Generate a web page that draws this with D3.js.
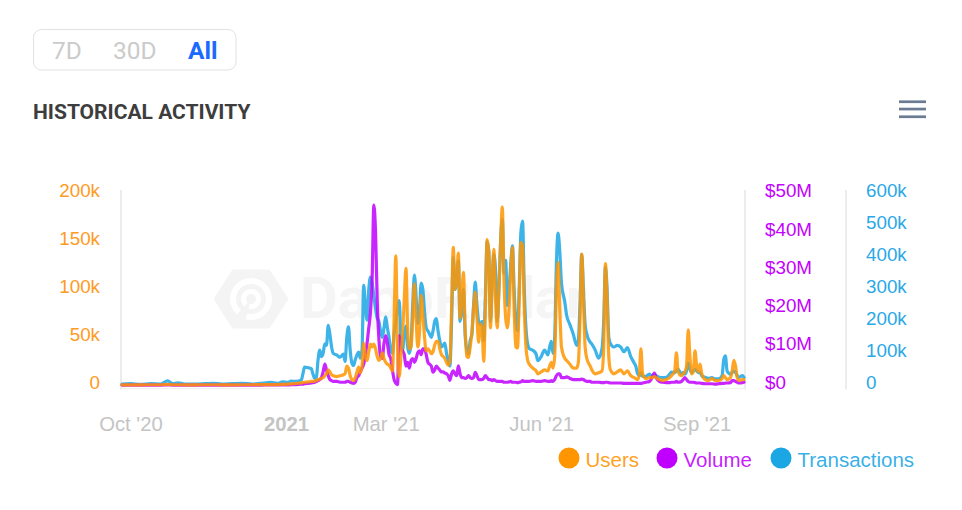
<!DOCTYPE html>
<html><head><meta charset="utf-8">
<script src="https://cdn.jsdelivr.net/npm/d3@7"></script>
<style>
html,body{margin:0;padding:0;background:#fff;}
svg{display:block;}
</style></head><body>
<svg id="chart" width="962" height="510"></svg>
<script>
// ---- DATA ----
const dates = ["2020-09-26","2020-10-01","2020-10-07","2020-10-13","2020-10-19","2020-10-23","2020-10-26","2020-10-29","2020-11-02","2020-11-08","2020-11-14","2020-11-19","2020-11-24","2020-11-30","2020-12-06","2020-12-12","2020-12-17","2020-12-23","2020-12-27","2020-12-30",
"2021-01-02","2021-01-04","2021-01-07","2021-01-10","2021-01-11","2021-01-12","2021-01-14","2021-01-16","2021-01-17","2021-01-18","2021-01-19","2021-01-20","2021-01-21","2021-01-22","2021-01-23","2021-01-24","2021-01-25","2021-01-26","2021-01-27","2021-01-28","2021-01-29","2021-01-31",
"2021-02-02","2021-02-04","2021-02-05","2021-02-06","2021-02-07","2021-02-08","2021-02-09","2021-02-10","2021-02-11","2021-02-12","2021-02-13","2021-02-14","2021-02-15","2021-02-16","2021-02-17","2021-02-18","2021-02-19","2021-02-20","2021-02-21","2021-02-22","2021-02-23","2021-02-24","2021-02-25","2021-02-26","2021-02-27","2021-02-28",
"2021-03-01","2021-03-02","2021-03-03","2021-03-04","2021-03-05","2021-03-06","2021-03-07","2021-03-08","2021-03-09","2021-03-10","2021-03-11","2021-03-12","2021-03-13","2021-03-14","2021-03-15","2021-03-16","2021-03-17","2021-03-18","2021-03-19","2021-03-20","2021-03-21","2021-03-22","2021-03-23","2021-03-24","2021-03-25","2021-03-26","2021-03-27","2021-03-28","2021-03-29","2021-03-30","2021-03-31",
"2021-04-01","2021-04-02","2021-04-03","2021-04-04","2021-04-05","2021-04-06","2021-04-07","2021-04-08","2021-04-09","2021-04-10","2021-04-11","2021-04-12","2021-04-13","2021-04-14","2021-04-15","2021-04-16","2021-04-17","2021-04-18","2021-04-19","2021-04-20","2021-04-21","2021-04-22","2021-04-23","2021-04-24","2021-04-25","2021-04-26","2021-04-27","2021-04-28","2021-04-29","2021-04-30",
"2021-05-01","2021-05-02","2021-05-03","2021-05-04","2021-05-05","2021-05-06","2021-05-07","2021-05-08","2021-05-09","2021-05-10","2021-05-11","2021-05-12","2021-05-13","2021-05-14","2021-05-15","2021-05-16","2021-05-17","2021-05-18","2021-05-19","2021-05-20","2021-05-21","2021-05-22","2021-05-23","2021-05-24","2021-05-25","2021-05-27","2021-05-29","2021-05-30",
"2021-06-01","2021-06-03","2021-06-05","2021-06-06","2021-06-07","2021-06-08","2021-06-09","2021-06-10","2021-06-11","2021-06-12","2021-06-13","2021-06-15","2021-06-16","2021-06-18","2021-06-20","2021-06-22","2021-06-23","2021-06-24","2021-06-25","2021-06-26","2021-06-27","2021-06-28","2021-06-30",
"2021-07-01","2021-07-03","2021-07-05","2021-07-07","2021-07-08","2021-07-09","2021-07-10","2021-07-11","2021-07-12","2021-07-14","2021-07-16","2021-07-18","2021-07-20","2021-07-22","2021-07-24","2021-07-26","2021-07-27","2021-07-28","2021-07-29","2021-07-30","2021-07-31",
"2021-08-02","2021-08-04","2021-08-05","2021-08-07","2021-08-08","2021-08-10","2021-08-12","2021-08-14","2021-08-16","2021-08-17","2021-08-19","2021-08-20","2021-08-21","2021-08-23","2021-08-24","2021-08-25","2021-08-26","2021-08-27","2021-08-28","2021-08-29","2021-08-30","2021-08-31",
"2021-09-01","2021-09-02","2021-09-03","2021-09-04","2021-09-06","2021-09-08","2021-09-10","2021-09-12","2021-09-14","2021-09-16","2021-09-17","2021-09-18","2021-09-19","2021-09-21","2021-09-22","2021-09-23","2021-09-24","2021-09-25","2021-09-26","2021-09-28","2021-09-29"];

// Users (thousands)
const users = [0.5,0.5,0.5,0.6,0.6,1.0,0.6,0.6,0.5,0.5,0.6,0.6,0.5,0.5,0.6,0.6,0.7,0.8,0.8,1.0,
1.2,1.5,2,2.5,3,3.2,3.5,4,4,4.5,5,6,6.5,7,8,10,12,16,14,11,10,9,
10,11,12,20,18,10,6,5,8,14,19,13,20,44,30,26,35,43,40,43,38,30,26,28,34,28,
24,22,21,18,15,70,135,40,9,30,54,90,122,60,38,40,70,106,70,40,55,94,75,50,36,38,36,33,35,42,46,
46,38,32,30,28,24,21,25,80,144,100,110,138,70,90,118,60,30,29,40,55,80,97,70,45,64,60,25,80,152,
140,60,110,142,90,60,100,150,186,110,70,60,80,120,144,80,40,39,90,149,145,80,40,26,22,18,15,12,
14,16,15,20,24,18,30,100,128,80,40,28,26,22,18,18,24,70,137,90,40,28,20,
16,12,13,15,40,127,90,30,16,12,14,16,12,15,10,8,7,6,10,38,12,
7,8,8,9,8,6,5,6,8,10,15,34,14,10,12,14,20,58,30,12,14,36,
20,14,22,12,6,5,7,5,5,7,10,8,6,8,15,26,20,8,5,6,6];

// Volume ($ millions)
const volume = [0.05,0.05,0.05,0.05,0.05,0.1,0.05,0.05,0.05,0.05,0.05,0.05,0.05,0.05,0.05,0.05,0.05,0.1,0.1,0.1,
0.1,0.15,0.2,0.3,0.3,0.4,0.5,0.6,0.7,0.8,1.0,1.2,1.5,2,3.5,5.5,4,2.5,1.5,1.2,1.0,1.0,
0.8,0.8,0.8,1.0,1.0,0.8,0.6,0.5,0.8,2.0,2.5,3.5,4.5,5.5,8,11,15,19,28,47,40,22,12,7.5,7,11,
13,11,8,7,4,1.5,0.5,0.2,13,10,9,8,5,6,4.5,6.5,7,6,7,8.5,9,8,9.5,9.5,8,6,5.5,5,3.4,4,5,
4.5,4,3.5,3.5,3.2,3.0,2.5,1.3,3.0,3.8,3.0,2.5,5.1,3.0,2.0,2.0,1.8,2.0,2.5,2.0,1.8,2.0,3.4,2.5,1.5,1.5,1.5,1.8,2.5,2.0,
1.5,1.5,1.2,1.5,1.2,1.0,1.0,1.0,1.0,0.8,0.8,0.8,0.9,1.0,0.8,0.8,0.8,0.7,0.8,0.9,1.2,1.0,1.0,1.0,1.0,1.2,1.0,1.0,
1.0,1.2,1.0,1.0,1.2,1.0,1.5,2.5,3.0,3.0,2.0,2.0,2.2,1.8,1.5,1.5,1.5,1.5,1.6,1.5,1.2,1.0,1.0,
0.8,0.8,0.8,0.7,0.7,0.8,0.8,0.7,0.6,0.6,0.6,0.6,0.5,0.5,0.5,0.5,0.5,0.5,0.5,0.5,0.6,
0.8,1.0,1.5,3.2,2.0,1.0,0.8,0.7,0.7,0.8,0.8,1.0,0.8,1.0,1.5,2.0,1.5,1.0,0.8,0.8,0.8,0.7,
0.6,0.6,0.6,0.5,0.4,0.4,0.4,0.3,0.4,0.5,0.5,0.6,0.6,0.7,1.2,1.2,1.0,0.8,0.6,0.7,0.8];

// Transactions (thousands)
const transactions = [4,5,3,5,4,14,5,8,4,4,5,6,4,5,6,4,6,9,6,11,
9,13,12,16,35,57,55,52,35,22,25,80,110,90,100,130,125,188,160,120,100,95,
88,98,75,150,183,110,70,62,80,95,104,85,110,313,250,204,300,339,320,280,240,210,200,170,150,180,
214,180,150,110,100,160,200,240,265,150,110,160,185,120,100,130,250,345,280,193,230,320,300,230,180,170,160,150,170,200,209,
170,140,120,125,132,100,78,60,200,400,300,330,390,200,230,300,160,110,98,140,160,250,323,250,200,190,200,140,280,450,
420,200,320,410,360,200,300,450,520,350,391,250,300,380,437,300,200,170,300,480,514,300,180,129,115,110,98,77,
90,110,95,120,138,100,150,380,477,420,320,260,221,190,160,125,140,260,410,300,190,160,135,
129,110,85,115,200,370,300,150,130,120,125,120,105,118,90,70,60,37,30,40,28,
28,35,30,32,30,25,24,25,35,41,40,45,50,35,40,35,45,70,50,40,45,50,
45,40,40,30,25,22,24,20,20,30,80,92,45,35,40,45,40,30,25,30,25];

const usersTicks = [0, 50, 100, 150, 200];
const usersTickLabels = ["0", "50k", "100k", "150k", "200k"];
const volumeTicks = [0, 10, 20, 30, 40, 50];
const volumeTickLabels = ["$0", "$10M", "$20M", "$30M", "$40M", "$50M"];
const txTicks = [0, 100, 200, 300, 400, 500, 600];
const txTickLabels = ["0", "100k", "200k", "300k", "400k", "500k", "600k"];
const xTickDates = ["2020-10-01", "2021-01-01", "2021-03-01", "2021-06-01", "2021-09-01"];
const xTickLabels = ["Oct '20", "2021", "Mar '21", "Jun '21", "Sep '21"];
const seriesNames = ["Users", "Volume", "Transactions"];
const rangeButtons = ["7D", "30D", "All"];

// ---- STYLE ----
const C = { users: "#ff9500", volume: "#c000ff", tx: "#1ba6e4" };
const FONT = "'Liberation Sans', Arial, sans-serif";

const parse = d3.utcParse("%Y-%m-%d");
const svg = d3.select("#chart");

// header buttons
const btn = svg.append("g");
btn.append("rect").attr("x", 33.5).attr("y", 29.5).attr("width", 202.5).attr("height", 40.5)
  .attr("rx", 8).attr("fill", "#fff").attr("stroke", "#e2e2e2").attr("stroke-width", 1);
const btnX = [52, 113, 188];
btn.selectAll("text").data(rangeButtons).join("text")
  .attr("x", (d, i) => btnX[i]).attr("y", 58.5)
  .attr("font-family", "Roboto, sans-serif").attr("font-size", 24.5)
  .attr("font-weight", (d, i) => i === 2 ? 700 : 400)
  .attr("fill", (d, i) => i === 2 ? "#1a6aff" : "#cbcbcb")
  .text(d => d);

svg.append("text").attr("x", 33).attr("y", 118.5)
  .attr("font-family", "Roboto, sans-serif").attr("font-size", 21).attr("font-weight", 700)
  .attr("fill", "#3d3d3d").text("HISTORICAL ACTIVITY");

// hamburger
[100.4, 107.7, 115.4].forEach(y => {
  svg.append("rect").attr("x", 899).attr("y", y).attr("width", 27).attr("height", 2.7).attr("fill", "#6b7b92");
});

// scales
const x = d3.scaleUtc().domain([parse(dates[0]), parse(dates[dates.length - 1])]).range([122, 744]);
const yTop = 193.7, yBot = 385.3;
const yU = d3.scaleLinear().domain([0, 200]).range([yBot, yTop]);
const yV = d3.scaleLinear().domain([0, 50]).range([yBot, yTop]);
const yT = d3.scaleLinear().domain([0, 600]).range([yBot, yTop]);

// watermark
const wm = svg.append("g");
const hx = 251, hy = 299, hr = 34;
const hex = d3.range(6).map(i => [hx + hr * Math.cos(i * Math.PI / 3), hy + hr * 0.9 * Math.sin(i * Math.PI / 3)]);
wm.append("path").attr("d", "M" + hex.join("L") + "Z").attr("fill", "#f4f4f4")
  .attr("stroke", "#f4f4f4").attr("stroke-width", 6).attr("stroke-linejoin", "round");
const arc = d3.arc();
wm.append("path").attr("transform", `translate(${hx},${hy})`)
  .attr("d", arc({ innerRadius: 15, outerRadius: 21, startAngle: -2.4, endAngle: 3.4 })).attr("fill", "#fff");
wm.append("path").attr("transform", `translate(${hx},${hy})`)
  .attr("d", arc({ innerRadius: 5, outerRadius: 10, startAngle: -2.4, endAngle: 3.4 })).attr("fill", "#fff");
wm.append("text").attr("x", 300).attr("y", 318).attr("font-family", "Roboto, sans-serif")
  .attr("font-size", 58).attr("font-weight", 700).attr("fill", "#f5f5f5").text("DappRadar");

// axis lines
[121, 745, 846].forEach(px => {
  svg.append("line").attr("x1", px).attr("x2", px).attr("y1", 190).attr("y2", 389.5)
    .attr("stroke", "#ececec").attr("stroke-width", 2);
});
svg.append("line").attr("x1", 122).attr("x2", 744).attr("y1", 388.5).attr("y2", 388.5)
  .attr("stroke", "#f0f0f0").attr("stroke-width", 1);

function styleAxis(g, color, size) {
  g.select(".domain").remove();
  g.selectAll(".tick line").remove();
  g.selectAll("text").attr("font-family", FONT).attr("font-size", size).attr("fill", color).attr("dy", 3);
}

svg.append("g").attr("transform", "translate(121,0)")
  .call(d3.axisLeft(yU).tickValues(usersTicks).tickFormat((d, i) => usersTickLabels[i]).tickSize(0).tickPadding(21))
  .call(g => styleAxis(g, "#ff9a1f", 18.8));
svg.append("g").attr("transform", "translate(745,0)")
  .call(d3.axisRight(yV).tickValues(volumeTicks).tickFormat((d, i) => volumeTickLabels[i]).tickSize(0).tickPadding(20))
  .call(g => styleAxis(g, "#c300ff", 18.8));
svg.append("g").attr("transform", "translate(846,0)")
  .call(d3.axisRight(yT).tickValues(txTicks).tickFormat((d, i) => txTickLabels[i]).tickSize(0).tickPadding(20))
  .call(g => styleAxis(g, "#2aa8e8", 18.8));

const xg = svg.append("g").attr("transform", "translate(0,385)")
  .call(d3.axisBottom(x).tickValues(xTickDates.map(parse)).tickFormat((d, i) => xTickLabels[i]).tickSize(0));
xg.select(".domain").remove();
xg.selectAll("text").attr("font-family", FONT).attr("font-size", 20.3).attr("fill", "#c4c4c4")
  .attr("y", 46).attr("dy", 0)
  .attr("font-weight", (d, i) => i === 1 ? 700 : 400);

// lines
function drawLine(vals, y, color) {
  const line = d3.line().x((d, i) => x(parse(dates[i]))).y(d => y(d)).curve(d3.curveMonotoneX);
  svg.append("path").datum(vals).attr("d", line).attr("fill", "none")
    .attr("stroke", color).attr("stroke-width", 3.2).attr("stroke-opacity", 0.85)
    .attr("stroke-linejoin", "round").attr("stroke-linecap", "round");
}
drawLine(transactions, yT, C.tx);
drawLine(volume, yV, C.volume);
drawLine(users, yU, C.users);

// legend
const legX = [569, 667, 781];
const legColors = [C.users, C.volume, C.tx];
const lg = svg.append("g");
seriesNames.forEach((name, i) => {
  lg.append("circle").attr("cx", legX[i]).attr("cy", 458).attr("r", 10.5).attr("fill", legColors[i]);
  lg.append("text").attr("x", legX[i] + 16.5).attr("y", 466.5).attr("font-family", FONT)
    .attr("font-size", 20.5).attr("fill", legColors[i]).attr("fill-opacity", 0.9).text(name);
});
</script>
</body></html>
